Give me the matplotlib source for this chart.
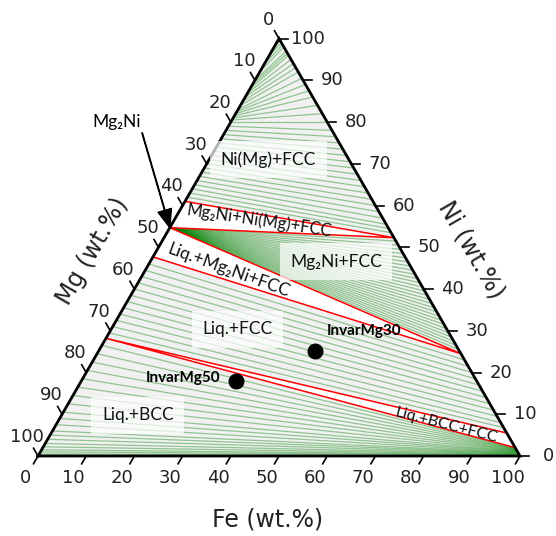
import numpy as np
import matplotlib.pyplot as plt
from matplotlib.patches import Polygon

# Fe-Ni-Mg isothermal section, compositions in wt.%

# Ni(Mg)+FCC tie lines: Mg of the Ni(Mg) end, Ni of the FCC end
nimg_mg = [2, 4, 6, 8, 10, 11, 12, 13, 14, 15, 16, 17, 17.5, 18, 18.5, 19, 19.5, 20,
           21, 22, 23, 24, 25, 26, 27, 28, 29, 30, 31, 32, 33, 34, 35, 36, 37, 38]
nimg_fcc_ni = [99.5, 99, 98.5, 98, 97, 96.5, 96, 95, 94, 93, 92, 90.5, 89, 87.5, 86, 84, 82, 80,
               78, 76.5, 75, 73.5, 72, 70.5, 69, 67.5, 66, 64.5, 63, 61.5, 60, 58.5, 57, 55.5, 54.5, 53.5]

# Mg2Ni+FCC fan: all lines start at Mg2Ni, Ni of the FCC end
mg2ni_mg = 45.3
mg2ni_fcc_ni = [51.5, 50.5, 49.5, 48.5, 47.5, 46.5, 45.5, 44.5, 43.5, 42.5, 41.5, 40.5, 39.5, 38.5,
                37.5, 36.5, 35.5, 34.5, 33.5, 32.5, 31.5, 30.5, 29.5, 28.5, 27.5, 26.5, 25.5]

# Liq.+FCC tie lines
liq_fcc_mg = [54, 55.5, 57, 58.5, 60, 61.5, 63, 64.5, 66, 67.5, 69, 70.5]
liq_fcc_ni = [23, 21.5, 20, 18.5, 17, 15.5, 14, 12.5, 11, 9.5, 8, 6.8]

# Liq.+BCC tie lines
liq_bcc_mg = [73.5, 75.5, 77.5, 79.5, 81.5, 83.5, 85.5, 87.5, 89.5, 91, 92.5, 94,
              95, 96, 97, 97.8, 98.5, 99, 99.5, 99.8]
liq_bcc_ni = [1.9, 1.8, 1.7, 1.6, 1.5, 1.4, 1.3, 1.2, 1.1, 1.0, 0.9, 0.8,
              0.7, 0.6, 0.5, 0.4, 0.3, 0.2, 0.1, 0.05]

# three-phase triangles, corners as (Fe, Ni)
tri_mg2ni_nimg_fcc = [(0, 61), (0, 54.7), (47.7, 52.3)]
tri_liq_mg2ni_fcc = [(0, 54.7), (0, 47.7), (75.5, 24.5)]
tri_liq_bcc_fcc = [(0, 28.2), (98, 2), (94.5, 5.5)]

# alloys
alloy_fe = [44.8, 32.0]
alloy_ni = [25.2, 18.0]
alloy_names = ['InvarMg30', 'InvarMg50']

ticks = [0, 10, 20, 30, 40, 50, 60, 70, 80, 90, 100]

H = np.sqrt(3) / 2


def xy(fe, ni):
    # Mg at lower left, Fe at lower right, Ni at top
    fe = np.asarray(fe, float) / 100
    ni = np.asarray(ni, float) / 100
    return fe + 0.5 * ni, H * ni


def on_mgni(mg):
    return xy(0, 100 - mg)


def on_feni(ni):
    return xy(100 - ni, ni)


def tie(ax, p, q):
    ax.plot([p[0], q[0]], [p[1], q[1]], color='green', lw=0.9, alpha=0.4,
            solid_capstyle='butt', zorder=2)


plt.rcParams['font.family'] = 'DejaVu Sans'
lab_font = ['Lato', 'DejaVu Sans']

fig = plt.figure(figsize=(5.56, 5.36), dpi=100)
ax = fig.add_axes([0, 0, 1, 1])
px = 1 / 482
ax.set_xlim(-38 * px, 518 * px)
ax.set_ylim(-80 * px, 456 * px)
ax.axis('off')

ax.add_patch(Polygon([(0, 0), (1, 0), (0.5, H)], closed=True, fc='#f1f1f1', ec='none', zorder=0))

for m, n in zip(nimg_mg, nimg_fcc_ni):
    tie(ax, on_mgni(m), on_feni(n))
for n in mg2ni_fcc_ni:
    tie(ax, on_mgni(mg2ni_mg), on_feni(n))
for m, n in zip(liq_fcc_mg, liq_fcc_ni):
    tie(ax, on_mgni(m), on_feni(n))
for m, n in zip(liq_bcc_mg, liq_bcc_ni):
    tie(ax, on_mgni(m), on_feni(n))

for tri in (tri_mg2ni_nimg_fcc, tri_liq_mg2ni_fcc, tri_liq_bcc_fcc):
    pts = [xy(fe, ni) for fe, ni in tri]
    ax.add_patch(Polygon(pts, closed=True, fc='white', ec='red', lw=1.1, zorder=3))

# frame
ax.plot([0, 1, 0.5, 0], [0, 0, H, 0], color='black', lw=2, zorder=5, solid_joinstyle='miter')

# ticks and tick labels
tl = 9 * px
for t in ticks:
    # Fe along the bottom
    x0, y0 = xy(t, 0)
    ax.plot([x0, x0 - 0.5 * tl], [y0, y0 - H * tl], color='black', lw=1.2, zorder=5)
    ax.text(x0 - 0.5 * 25 * px, y0 - H * 25 * px, str(t), fontsize=13, ha='center', va='center',
            color='#222222')
    # Ni along the right side
    x0, y0 = on_feni(t)
    ax.plot([x0, x0 + tl], [y0, y0], color='black', lw=1.2, zorder=5)
    ax.text(x0 + 29 * px, y0, str(t), fontsize=13, ha='center', va='center', color='#222222')
    # Mg along the left side
    x0, y0 = on_mgni(t)
    ax.plot([x0, x0 - 0.5 * tl], [y0, y0 + H * tl], color='black', lw=1.2, zorder=5)
    ax.text(x0 - 0.5 * 22 * px, y0 + H * 22 * px, str(t), fontsize=13, ha='center', va='center',
            color='#222222')

ax.text(0.477, -0.131, 'Fe (wt.%)', fontsize=17, ha='center', va='center', color='#222222')
ax.text(0.114, 0.425, 'Mg (wt.%)', fontsize=17, ha='center', va='center', rotation=60,
        color='#222222')
ax.text(0.898, 0.427, 'Ni (wt.%)', fontsize=17, ha='center', va='center', rotation=-60,
        color='#222222')

# phase field labels
box = dict(boxstyle='square,pad=0.6', fc='white', ec='none', alpha=0.7)
fields = [
    ('Ni(Mg)+FCC', 12.3, 71.0, 0, True, 12.5),
    ('Mg\u2082Ni+Ni(Mg)+FCC', 17.7, 56.4, -8.5, False, 12),
    ('Liq.+Mg\u2082Ni+FCC', 17.3, 44.5, -20, False, 12.5),
    ('Mg\u2082Ni+FCC', 38.6, 46.5, 0, True, 12.5),
    ('Liq.+FCC', 26.1, 30.4, 0, True, 12.5),
    ('Liq.+BCC', 15.8, 9.8, 0, True, 12.5),
    ('Liq.+BCC+FCC', 81.0, 7.3, -14.5, False, 11.5),
]
for s, fe, ni, rot, boxed, size in fields:
    x, y = xy(fe, ni)
    ax.text(x, y, s, fontsize=size, family=lab_font, ha='center', va='center', rotation=rot,
            rotation_mode='anchor', zorder=7, color='#111111', bbox=box if boxed else None)

# alloys
alloy_x, alloy_y = xy(alloy_fe, alloy_ni)
ax.plot(alloy_x, alloy_y, 'o', color='black', ms=10.5, zorder=8)
offsets = [((9, 14), 'left'), ((-11, 2), 'right')]
for name, x, y, (off, ha) in zip(alloy_names, alloy_x, alloy_y, offsets):
    ax.annotate(name, (x, y), xytext=off, textcoords='offset points', ha=ha, va='center',
                fontsize=11, fontweight='bold', family=lab_font, zorder=8)

# Mg2Ni pointer
ax.annotate('Mg\u2082Ni', on_mgni(mg2ni_mg), xytext=(-38, 76), textcoords='offset points',
            ha='center', va='center', fontsize=12.5, family=lab_font,
            arrowprops=dict(facecolor='black', edgecolor='black', width=0.4, headwidth=10,
                            headlength=13, shrink=0.0), zorder=9)

fig.savefig('out.png', dpi=100)
